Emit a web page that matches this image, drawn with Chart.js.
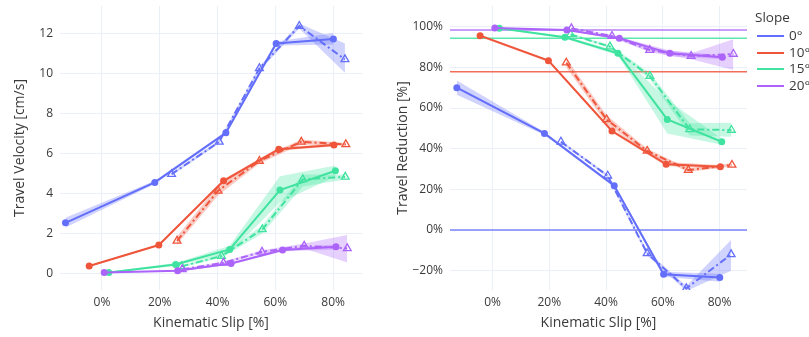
<!DOCTYPE html>
<html><head><meta charset="utf-8">
<script src="https://cdn.jsdelivr.net/npm/chart.js@4/dist/chart.umd.min.js"></script>
<style>
html,body{margin:0;padding:0;background:#fff;overflow:hidden;width:809px;height:337px;position:relative;}
#c1{position:absolute;left:0;top:0;}
#c2{position:absolute;left:380px;top:0;}
#legend{position:absolute;left:0;top:0;width:809px;height:337px;pointer-events:none;font-family:'Open Sans',sans-serif;color:#3a3a3a;overflow:hidden;}
.lt{position:absolute;left:755px;top:8px;font-size:13.5px;white-space:nowrap;}
.li{position:absolute;left:757px;height:16px;white-space:nowrap;font-size:13.5px;}
.li span.ln{position:absolute;left:0;top:7px;width:27px;height:2px;}
.li span.tx{position:absolute;left:32px;top:-2px;}
</style></head>
<body>
<canvas id="c1" width="375" height="337"></canvas>
<canvas id="c2" width="429" height="337"></canvas>
<div id="legend"></div>
<script>
// ---------- data ----------
const slopes = ['0°', '10°', '15°', '20°'];
const xTicks = [0, 20, 40, 60, 80];
const velTicks = [0, 2, 4, 6, 8, 10, 12];
const redTicks = [-20, 0, 20, 40, 60, 80, 100];

// run A (solid, circles) kinematic slip [%] per slope
const slipA = [
  [-12.6, 18.3, 42.9, 60.3, 80.1],
  [-4.4, 19.7, 42.1, 61.2, 80.3],
  [2.4, 25.5, 44.2, 61.6, 80.8],
  [0.8, 26.2, 44.7, 62.5, 81.0]
];
// run B (dash-dot, open triangles) kinematic slip [%] per slope
const slipB = [
  [24.1, 40.6, 54.5, 68.3, 84.1],
  [26.0, 40.2, 54.5, 69.0, 84.4],
  [27.5, 41.4, 55.5, 69.5, 84.2],
  [27.8, 42.1, 55.4, 70.0, 84.9]
];
// travel velocity [cm/s]
const velA = [
  [2.53, 4.55, 7.03, 11.5, 11.72],
  [0.37, 1.42, 4.63, 6.21, 6.42],
  [0.05, 0.45, 1.2, 4.17, 5.13],
  [0.05, 0.13, 0.5, 1.17, 1.33]
];
const velA_lo = [
  [2.3, 4.47, 6.95, 11.4, 11.45],
  [0.33, 1.38, 4.55, 6.15, 6.35],
  [0.02, 0.38, 1.02, 3.55, 4.85],
  [0.03, 0.1, 0.45, 1.1, 1.2]
];
const velA_hi = [
  [2.78, 4.63, 7.1, 11.6, 12.02],
  [0.41, 1.46, 4.71, 6.3, 6.5],
  [0.08, 0.52, 1.38, 4.86, 5.4],
  [0.07, 0.16, 0.55, 1.24, 1.46]
];
const velB = [
  [4.96, 6.58, 10.25, 12.37, 10.7],
  [1.63, 4.13, 5.62, 6.58, 6.45],
  [0.35, 0.87, 2.2, 4.7, 4.83],
  [0.2, 0.53, 1.08, 1.38, 1.25]
];
const velB_lo = [
  [4.9, 6.5, 10.15, 12.25, 10.03],
  [1.45, 3.9, 5.5, 6.45, 6.38],
  [0.3, 0.78, 2.0, 4.35, 4.7],
  [0.16, 0.47, 1.0, 1.25, 0.55]
];
const velB_hi = [
  [5.02, 6.66, 10.35, 12.5, 11.5],
  [1.85, 4.4, 5.75, 6.7, 6.52],
  [0.4, 0.96, 2.4, 4.95, 4.95],
  [0.24, 0.59, 1.16, 1.5, 1.92]
];
// travel reduction [%]
const redA = [
  [70, 47.5, 21.8, -21.8, -23.4],
  [95.6, 83.3, 48.7, 32.3, 31.1],
  [99.2, 94.8, 86.9, 54.4, 43.4],
  [99.4, 98.4, 94.3, 86.9, 85.0]
];
const redA_lo = [
  [66.5, 46.8, 21.0, -23.0, -25.5],
  [95.0, 82.7, 48.0, 31.5, 30.2],
  [99.0, 94.2, 86.0, 47.5, 42.0],
  [99.2, 98.1, 93.6, 85.5, 84.0]
];
const redA_hi = [
  [73.5, 48.2, 22.5, -20.5, -21.5],
  [96.2, 83.9, 49.4, 33.5, 32.0],
  [99.4, 95.4, 87.8, 64.0, 45.0],
  [99.6, 98.7, 95.0, 88.3, 86.0]
];
const redB = [
  [43.4, 26.7, -11.5, -28.7, -12.0],
  [82.3, 54.4, 38.9, 29.5, 32.0],
  [96.2, 90.2, 75.7, 49.5, 49.2],
  [99.2, 95.4, 88.5, 85.6, 86.6]
];
const redB_lo = [
  [42.8, 26.0, -12.5, -30.0, -20.0],
  [80.0, 52.3, 37.8, 28.6, 31.2],
  [95.7, 89.5, 74.0, 46.5, 45.9],
  [98.9, 94.7, 87.5, 84.0, 78.7]
];
const redB_hi = [
  [44.0, 27.4, -10.5, -27.5, -4.9],
  [84.5, 56.5, 40.0, 30.4, 32.8],
  [96.7, 90.9, 77.3, 52.5, 52.8],
  [99.5, 96.1, 89.5, 87.0, 93.8]
];
// reference travel reduction level per slope [%]
const redBaseline = [0, 77.9, 94.3, 98.4];

// ---------- styling ----------
const COLORS = ['#636efa', '#EF553B', '#3fe39f', '#ab63fa'];
const RGB = [[99,110,250],[239,85,59],[63,227,159],[171,99,250]];
const FONT = "'Open Sans', sans-serif";
const TXT = '#3a3a3a';
const GRID = '#EBF0F8';
Chart.defaults.font.family = FONT;
Chart.defaults.color = TXT;

const pts = (xs, ys) => xs.map((x, k) => ({x: x, y: ys[k]}));
const rgba = (i, a) => `rgba(${RGB[i][0]},${RGB[i][1]},${RGB[i][2]},${a})`;

function buildSets(yA, yAlo, yAhi, yB, yBlo, yBhi) {
  const sets = [];
  for (let i = 0; i < slopes.length; i++) {
    const bandBase = {borderWidth: 0, pointRadius: 0, showLine: true, order: 50 - i};
    sets.push(Object.assign({data: pts(slipA[i], yAlo[i]), fill: false, borderColor: 'transparent'}, bandBase));
    sets.push(Object.assign({data: pts(slipA[i], yAhi[i]), fill: '-1', borderColor: 'transparent', backgroundColor: rgba(i, 0.3)}, bandBase));
    sets.push(Object.assign({data: pts(slipB[i], yBlo[i]), fill: false, borderColor: 'transparent'}, bandBase));
    sets.push(Object.assign({data: pts(slipB[i], yBhi[i]), fill: '-1', borderColor: 'transparent', backgroundColor: rgba(i, 0.3)}, bandBase));
  }
  for (let i = 0; i < slopes.length; i++) {
    sets.push({
      label: slopes[i], data: pts(slipA[i], yA[i]), showLine: true, fill: false,
      borderColor: COLORS[i], borderWidth: 2, pointStyle: 'circle', pointRadius: 3.5,
      pointBackgroundColor: COLORS[i], pointBorderColor: COLORS[i], pointBorderWidth: 0,
      order: 10 - 2 * i
    });
    sets.push({
      label: slopes[i], data: pts(slipB[i], yB[i]), showLine: true, fill: false,
      borderColor: COLORS[i], borderWidth: 2, borderDash: [7, 3, 2, 3],
      pointStyle: 'triangle', pointRadius: 4.5, pointBackgroundColor: 'rgba(0,0,0,0)',
      pointBorderColor: COLORS[i], pointBorderWidth: 1.3,
      order: 9 - 2 * i
    });
  }
  return sets;
}

function axis(min, max, ticks, fmt, title, isX, size, titlePad) {
  return {
    type: 'linear', min: min, max: max,
    grid: {color: GRID, lineWidth: 1, drawTicks: false},
    border: {display: false},
    ticks: {callback: fmt, color: TXT, font: {size: 12, family: FONT}, padding: isX ? 5 : 7, maxRotation: 0, autoSkip: false},
    afterBuildTicks: s => { s.ticks = ticks.map(v => ({value: v})); },
    afterFit: s => {
      if (isX) s.height = size; else s.width = size;
      s.paddingTop = 0; s.paddingBottom = 0; s.paddingLeft = 0; s.paddingRight = 0;
    },
    title: {display: true, text: title, color: TXT, font: {size: 14, family: FONT}, padding: titlePad}
  };
}

const XMIN1 = -14.5, XMAX1 = 90.0;
const XMIN2 = -15.0, XMAX2 = 89.7;

new Chart(document.getElementById('c1'), {
  type: 'scatter',
  data: {datasets: buildSets(velA, velA_lo, velA_hi, velB, velB_lo, velB_hi)},
  options: {
    responsive: false, animation: false, devicePixelRatio: 1,
    layout: {padding: {left: 0, right: 13, top: 6, bottom: 0}},
    plugins: {legend: {display: false}, tooltip: {enabled: false}},
    scales: {
      x: axis(XMIN1, XMAX1, xTicks, v => v + '%', 'Kinematic Slip [%]', true, 47, {top: 0, bottom: 6}),
      y: axis(-0.83, 13.37, velTicks, v => String(v), 'Travel Velocity [cm/s]', false, 60, {top: 12, bottom: 0})
    }
  }
});

const redSets = buildSets(redA, redA_lo, redA_hi, redB, redB_lo, redB_hi);
for (let i = 0; i < slopes.length; i++) {
  redSets.push({
    data: [{x: XMIN2, y: redBaseline[i]}, {x: XMAX2, y: redBaseline[i]}],
    showLine: true, fill: false, borderColor: rgba(i, 0.85), borderWidth: 1.5,
    pointRadius: 0, order: 60
  });
}

new Chart(document.getElementById('c2'), {
  type: 'scatter',
  data: {datasets: redSets},
  options: {
    responsive: false, animation: false, devicePixelRatio: 1,
    layout: {padding: {left: 0, right: 62, top: 6, bottom: 0}},
    plugins: {legend: {display: false}, tooltip: {enabled: false}},
    scales: {
      x: axis(XMIN2, XMAX2, xTicks, v => v + '%', 'Kinematic Slip [%]', true, 47, {top: 0, bottom: 6}),
      y: axis(-29.5, 110.2, redTicks, v => (v < 0 ? '\u2212' + (-v) : v) + '%', 'Travel Reduction [%]', false, 70, {top: 15, bottom: 0})
    }
  }
});

// legend (HTML text)
const lg = document.getElementById('legend');
let html = '<div class="lt">Slope</div>';
const itemY = [28, 44.5, 61, 77.5];
slopes.forEach((s, i) => {
  html += `<div class="li" style="top:${itemY[i]}px"><span class="ln" style="background:${COLORS[i]}"></span><span class="tx">${s}</span></div>`;
});
lg.innerHTML = html;
</script>
</body></html>
